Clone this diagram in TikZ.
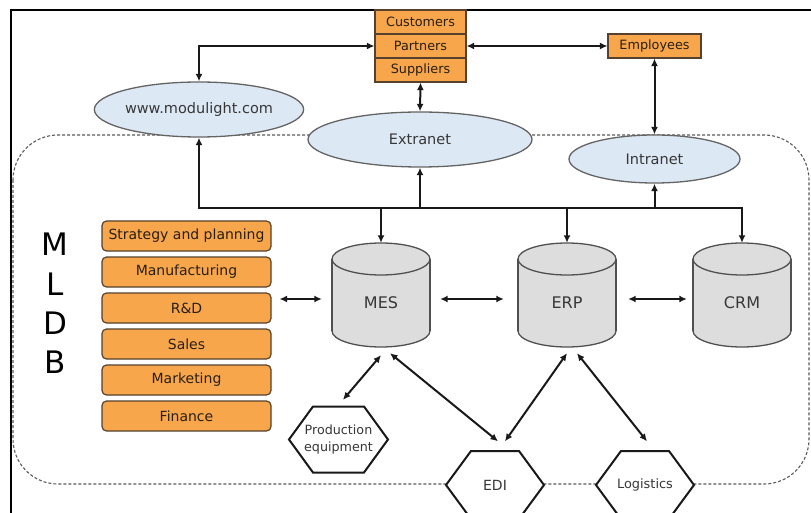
\documentclass[tikz,border=0pt]{standalone}
\usepackage{fontspec}
\setmainfont{DejaVu Sans}
\usetikzlibrary{arrows.meta,calc,shapes.geometric}
\definecolor{org}{RGB}{248,166,76}
\definecolor{bord}{RGB}{85,65,45}
\definecolor{txt}{RGB}{40,30,20}
\definecolor{eblue}{RGB}{221,232,245}
\definecolor{egray}{RGB}{100,100,100}
\definecolor{etxt}{RGB}{55,55,55}
\definecolor{cylf}{RGB}{221,221,221}
\definecolor{cyll}{RGB}{80,80,80}
\definecolor{dashc}{RGB}{90,90,90}
\definecolor{linec}{RGB}{25,25,25}
\tikzset{
  box/.style={draw=bord, fill=org, line width=1.2pt, inner sep=0pt, text=txt},
  lbox/.style={box, rounded corners=4.5pt, minimum width=169, minimum height=30, font=\fontsize{14}{16}\selectfont},
  tbox/.style={box, minimum width=91, minimum height=24, font=\fontsize{12.8}{15}\selectfont},
  ell/.style={ellipse, draw=egray, fill=eblue, line width=1.3pt, inner sep=0pt, text=etxt, font=\fontsize{14.5}{17}\selectfont},
  con/.style={draw=linec, line width=2pt, -{Latex[length=7.5pt,width=7pt]}},
  dcon/.style={draw=linec, line width=2pt, {Latex[length=7.5pt,width=7pt]}-{Latex[length=7.5pt,width=7pt]}},
  hdcon/.style={dcon, line width=2.6pt},
  hexline/.style={line width=2pt, fill=white, draw=linec},
  hexn/.style={inner sep=0pt, minimum width=98, minimum height=67, align=center, text=etxt},
  cylbody/.style={fill=cylf, draw=cyll, line width=1.3pt},
  cyltxt/.style={inner sep=0pt, text=etxt, font=\fontsize{16}{18}\selectfont},
}
\newcommand\hexa[8]{% name, cx, cy, half w, half h, slant, font, text
  \draw[hexline] (#2-#4,#3) -- (#2-#4+#6,#3-#5) -- (#2+#4-#6,#3-#5) -- (#2+#4,#3)
     -- (#2+#4-#6,#3+#5) -- (#2-#4+#6,#3+#5) -- cycle;
  \node[hexn, font=#7] (#1) at (#2,#3) {#8};}
\newcommand\cylin[3]{% name, cx, label
  \filldraw[cylbody] (#2,331) ellipse (49 and 16);
  \fill[cylf] (#2-49,259) rectangle (#2+49,331);
  \draw[cyll, line width=1.3pt] (#2-49,259) -- (#2-49,331) (#2+49,259) -- (#2+49,331);
  \filldraw[cylbody] (#2,259) ellipse (49 and 16);
  \node[inner sep=0pt, minimum width=98, minimum height=104] (#1) at (#2,295) {};
  \node[cyltxt] (#1t) at (#2,303) {#3};}
\begin{document}
\begin{tikzpicture}[x=1pt,y=-1pt]
\useasboundingbox (0,0) rectangle (811,513);
\fill[white] (0,0) rectangle (811,513);
\begin{scope}
  \clip (0,0) rectangle (811,513);
  \draw[line width=2.2pt] (11,10) rectangle (840,540);
\end{scope}
% dashed MLDB boundary
\draw[dashc, line width=1.1pt, dash pattern=on 3pt off 2pt, rounded corners=45pt] (13,135) rectangle (809,484);

% top boxes
\node[tbox] (cust) at (420.5,22) {Customers};
\node[tbox] (part) at (420.5,46) {Partners};
\node[tbox] (supp) at (420.5,70) {Suppliers};
\node[tbox, minimum width=93] (emp) at (654.5,46) {Employees};

% ellipses
\node[ell, minimum width=196, minimum height=55] (web) at (199,109.5) {www.modulight.com};
\node[ell, minimum width=224, minimum height=55] (ext) at (420,139.5) {Extranet};
\node[ell, minimum width=171, minimum height=48] (int) at (654.5,159) {Intranet};

% MLDB letters
\node[align=center, text=black, inner sep=0pt, font=\fontsize{31}{39.3}\selectfont] (mldb) at (55,303.5) {M\\L\\D\\B};

% left boxes
\node[lbox] (str) at (186.5,236) {Strategy and planning};
\node[lbox] (man) at (186.5,272) {Manufacturing};
\node[lbox] (rd)  at (186.5,308) {R\&D};
\node[lbox] (sal) at (186.5,344) {Sales};
\node[lbox] (mkt) at (186.5,380) {Marketing};
\node[lbox] (fin) at (186.5,416) {Finance};

% cylinders
\cylin{mes}{381}{MES}
\cylin{erp}{567}{ERP}
\cylin{crm}{742}{CRM}

% hexagons
\hexa{pe}{338.5}{439.5}{49.5}{33}{24}{\fontsize{12.7}{16.5}\selectfont}{Production\\equipment}
\hexa{edi}{495}{485}{49}{34}{25}{\fontsize{14}{16}\selectfont}{EDI}
\hexa{log}{645}{485}{49}{34}{25}{\fontsize{12.9}{15}\selectfont}{Logistics}

% top connectors
\draw[dcon] (part.west) -| (web.north);
\draw[dcon] (part.east) -- (emp.west);
\draw[dcon] (supp.south) -- (ext.north);
\draw[dcon] (emp.south) -- (int.north);

% bus
\coordinate (bus) at (0,208);
\draw[linec, line width=2pt, line cap=rect] (web.south |- bus) -- (crm.north |- bus);
\draw[con] (web.south |- bus) -- (web.south);
\draw[con] (ext.south |- bus) -- (ext.south);
\draw[con] (int.south |- bus) -- (int.south);
\draw[con] (mes.north |- bus) -- (mes.north);
\draw[con] (erp.north |- bus) -- (erp.north);
\draw[con] (crm.north |- bus) -- (crm.north);

% horizontal links
\coordinate (lvl) at (0,299);
\draw[hdcon] ($(rd.east |- lvl)+(8,0)$) -- ($(mes.west |- lvl)+(-10,0)$);
\draw[hdcon] ($(mes.east |- lvl)+(10,0)$) -- ($(erp.west |- lvl)+(-14,0)$);
\draw[hdcon] ($(erp.east |- lvl)+(12,0)$) -- ($(crm.west |- lvl)+(-6,0)$);

% diagonal links
\draw[dcon] ($(mes.south)+(0,8)$) -- ($(pe.north)+(4.5,-6)$);
\draw[dcon] ($(mes.south)+(9,6)$) -- ($(edi.north)+(3,-10)$);
\draw[dcon] ($(erp.south)+(0,6)$) -- ($(edi.north)+(10,-10)$);
\draw[dcon] ($(erp.south)+(10,6)$) -- ($(log.north)+(2,-10)$);
\end{tikzpicture}
\end{document}
